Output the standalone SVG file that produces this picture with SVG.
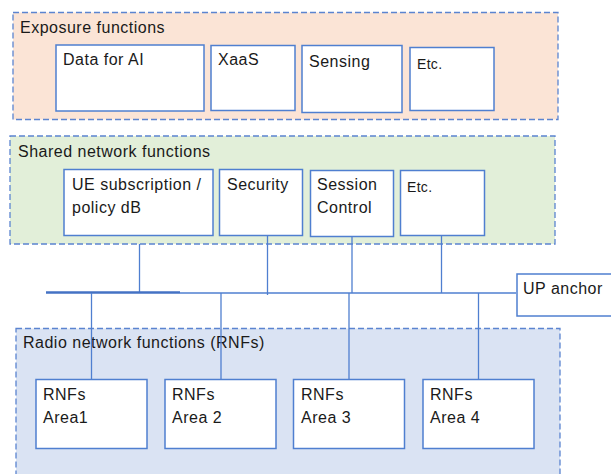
<svg xmlns="http://www.w3.org/2000/svg" width="611" height="474" viewBox="0 0 611 474">
  <style>
    .group { stroke: #5b84d0; stroke-width: 1.3; stroke-dasharray: 6 3; }
    .box { fill: #ffffff; stroke: #4f7fd0; stroke-width: 1.5; }
    .link { stroke: #4f7fd0; stroke-width: 1.3; fill: none; }
    text { font-family: "Liberation Sans", Arial, sans-serif; font-size: 16px; letter-spacing: 0.5px; fill: #1a1a1a; }
    .small { font-size: 14px; letter-spacing: 0.3px; }
  </style>
  <rect width="611" height="474" fill="#ffffff"/>

  <!-- Exposure layer -->
  <g id="exposure-functions">
    <rect class="group" x="13" y="12.5" width="545" height="107" fill="#fbe4d6"/>
    <text x="20" y="33">Exposure functions</text>
  </g>
  <g id="data-for-ai">
    <rect class="box" x="56" y="45" width="148" height="66"/>
    <text x="63" y="64.5">Data for AI</text>
  </g>
  <g id="xaas">
    <rect class="box" x="211" y="45.5" width="84" height="65"/>
    <text x="218" y="65">XaaS</text>
  </g>
  <g id="sensing">
    <rect class="box" x="302" y="45.5" width="100" height="67"/>
    <text x="309" y="67">Sensing</text>
  </g>
  <g id="exposure-etc">
    <rect class="box" x="410" y="47.5" width="84" height="63"/>
    <text class="small" x="417" y="69">Etc.</text>
  </g>

  <!-- Shared layer -->
  <g id="shared-network-functions">
    <rect class="group" x="10" y="136" width="545" height="108" fill="#e2efd9"/>
    <text x="18" y="157">Shared network functions</text>
  </g>
  <g id="ue-subscription">
    <rect class="box" x="64" y="169.5" width="149" height="66"/>
    <text x="72" y="190">UE subscription /</text>
    <text x="72" y="213">policy dB</text>
  </g>
  <g id="security">
    <rect class="box" x="219.5" y="169.5" width="83" height="66"/>
    <text x="227" y="190">Security</text>
  </g>
  <g id="session-control">
    <rect class="box" x="310.5" y="170.5" width="83" height="66"/>
    <text x="317" y="190">Session</text>
    <text x="317" y="213">Control</text>
  </g>
  <g id="shared-etc">
    <rect class="box" x="400.5" y="170.5" width="84" height="65"/>
    <text class="small" x="407" y="192">Etc.</text>
  </g>

  <!-- Radio layer -->
  <g id="radio-network-functions">
    <rect class="group" x="16" y="328.5" width="544" height="160" fill="#dae3f3"/>
    <text x="23" y="348">Radio network functions (RNFs)</text>
  </g>

  <!-- Bus and links -->
  <g id="connectors">
    <line class="link" x1="139.5" y1="244" x2="139.5" y2="293"/>
    <line class="link" x1="267.5" y1="236" x2="267.5" y2="295"/>
    <line class="link" x1="352" y1="237" x2="352" y2="293"/>
    <line class="link" x1="441.5" y1="236" x2="441.5" y2="293"/>
    <line x1="46" y1="292.5" x2="180" y2="292.5" stroke="#4472c4" stroke-width="2.6"/>
    <line x1="180" y1="293" x2="516" y2="293" stroke="#4f7fd0" stroke-width="1.6"/>
    <line class="link" x1="91.5" y1="293" x2="91.5" y2="379"/>
    <line class="link" x1="221" y1="293" x2="221" y2="379"/>
    <line class="link" x1="349" y1="293" x2="349" y2="379"/>
    <line class="link" x1="478.5" y1="293" x2="478.5" y2="379"/>
  </g>

  <g id="up-anchor">
    <rect class="box" x="517" y="274" width="110" height="42"/>
    <text x="523" y="294">UP anchor</text>
  </g>

  <g id="rnfs-area1">
    <rect class="box" x="36" y="379.5" width="111" height="69"/>
    <text x="43" y="400">RNFs</text>
    <text x="43" y="422.5">Area1</text>
  </g>
  <g id="rnfs-area2">
    <rect class="box" x="165" y="379.5" width="111" height="69"/>
    <text x="172" y="400">RNFs</text>
    <text x="172" y="422.5">Area 2</text>
  </g>
  <g id="rnfs-area3">
    <rect class="box" x="293.5" y="379.5" width="111" height="69"/>
    <text x="301" y="400">RNFs</text>
    <text x="301" y="422.5">Area 3</text>
  </g>
  <g id="rnfs-area4">
    <rect class="box" x="423" y="379.5" width="111" height="69"/>
    <text x="430" y="400">RNFs</text>
    <text x="430" y="422.5">Area 4</text>
  </g>
</svg>
